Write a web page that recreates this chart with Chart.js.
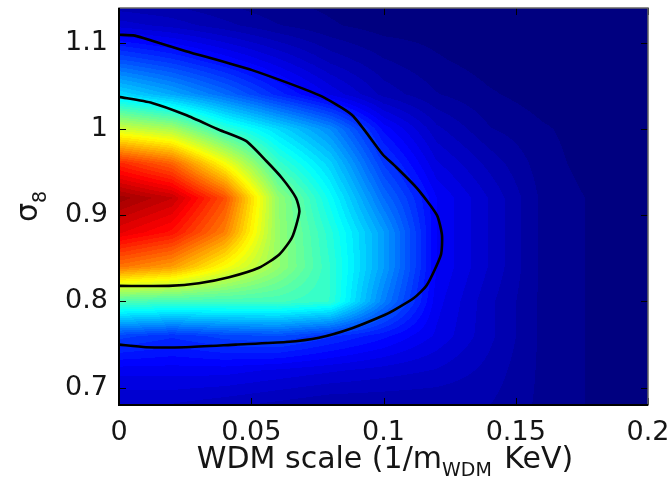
<!DOCTYPE html>
<html>
<head>
<meta charset="utf-8">
<script src="https://cdn.jsdelivr.net/npm/chart.js@4.4.1/dist/chart.umd.min.js"></script>
<style>
  html, body { margin: 0; padding: 0; background: #fff; }
  #wrap { width: 670px; height: 485px; }
</style>
</head>
<body>
<div id="wrap"><canvas id="c" width="670" height="485"></canvas></div>
<script>
/* ---- data ---- */
const xTicks = [0, 0.05, 0.1, 0.15, 0.2];
const yTicks = [0.7, 0.8, 0.9, 1, 1.1];

// density grid (0..1 on the jet colour scale), rows follow gridY
const gridX = [0, 0.02, 0.04, 0.06, 0.08, 0.10, 0.12, 0.14, 0.16, 0.18, 0.20];
const gridY = [0.68, 0.72, 0.76, 0.80, 0.84, 0.88, 0.92, 0.96, 1.00, 1.04, 1.08, 1.12, 1.16];
const density = [
  [0.07, 0.07, 0.06, 0.05, 0.04, 0.04, 0.04, 0.04, 0.02, 0.005, 0],
  [0.11, 0.11, 0.11, 0.10, 0.09, 0.08, 0.07, 0.05, 0.02, 0.005, 0],
  [0.19, 0.17, 0.19, 0.20, 0.17, 0.14, 0.10, 0.06, 0.02, 0.005, 0],
  [0.45, 0.44, 0.44, 0.44, 0.42, 0.25, 0.11, 0.06, 0.02, 0.005, 0],
  [0.76, 0.72, 0.62, 0.52, 0.42, 0.28, 0.12, 0.07, 0.02, 0.005, 0],
  [0.90, 0.86, 0.75, 0.52, 0.41, 0.28, 0.12, 0.07, 0.02, 0.005, 0],
  [0.97, 0.93, 0.80, 0.52, 0.38, 0.23, 0.12, 0.07, 0.02, 0.005, 0],
  [0.84, 0.78, 0.62, 0.43, 0.33, 0.18, 0.09, 0.05, 0.015, 0, 0],
  [0.58, 0.54, 0.42, 0.34, 0.26, 0.13, 0.06, 0.025, 0.01, 0, 0],
  [0.34, 0.29, 0.23, 0.16, 0.10, 0.05, 0.025, 0.01, 0, 0, 0],
  [0.20, 0.17, 0.13, 0.09, 0.05, 0.025, 0.01, 0, 0, 0, 0],
  [0.08, 0.065, 0.045, 0.025, 0.01, 0, 0, 0, 0, 0, 0],
  [0.02, 0.02, 0.01, 0, 0, 0, 0, 0, 0, 0, 0]
];

// confidence contours (traced from the left edge, round, back to it)
const outerX = [0, 0.006, 0.0125, 0.0253, 0.0503, 0.0756, 0.0881, 0.0998, 0.104, 0.1127, 0.1202, 0.1221, 0.1217, 0.1164, 0.1115, 0.104, 0.1002, 0.0881, 0.0756, 0.0631, 0.0442, 0.0253, 0.0102, 0];
const outerY = [1.109, 1.108, 1.102, 1.090, 1.068, 1.039, 1.016, 0.970, 0.958, 0.931, 0.900, 0.877, 0.854, 0.819, 0.804, 0.790, 0.784, 0.769, 0.758, 0.753, 0.750, 0.747, 0.747, 0.750];
const innerX = [0, 0.0125, 0.0253, 0.0378, 0.048, 0.0556, 0.0616, 0.0669, 0.0682, 0.0654, 0.0605, 0.0529, 0.0416, 0.0302, 0.0189, 0];
const innerY = [1.037, 1.030, 1.016, 0.999, 0.986, 0.963, 0.943, 0.920, 0.904, 0.874, 0.854, 0.839, 0.828, 0.821, 0.818, 0.818];

const FONT = "'DejaVu Sans', 'Liberation Sans', sans-serif";
const INK = '#151515';

const pts = (xs, ys) => xs.map((x, i) => ({ x, y: ys[i] }));
const fmt = (v) => String(+v.toFixed(3));

function jet(v) {
  v = Math.max(0, Math.min(1, v));
  v = Math.round(v * 63) / 63;          // 64-colour map like the original
  const c = (t) => Math.max(0, Math.min(1, t));
  return [
    c(Math.min(4 * v - 1.5, -4 * v + 4.5)) * 255,
    c(Math.min(4 * v - 0.5, -4 * v + 3.5)) * 255,
    c(Math.min(4 * v + 0.5, -4 * v + 2.5)) * 255
  ];
}

function cellIndex(arr, v) {
  let i = 0;
  while (i < arr.length - 2 && v > arr[i + 1]) i++;
  const t = (v - arr[i]) / (arr[i + 1] - arr[i]);
  return [i, Math.max(0, Math.min(1, t))];
}

function sample(x, y) {
  const [i, tx] = cellIndex(gridX, x);
  const [j, ty] = cellIndex(gridY, y);
  const a = density[j][i], b = density[j][i + 1];
  const c = density[j + 1][i], d = density[j + 1][i + 1];
  return (a * (1 - tx) + b * tx) * (1 - ty) + (c * (1 - tx) + d * tx) * ty;
}

/* smooth colour field, placed through the chart's own scales */
const heatmap = {
  id: 'heatmap',
  beforeDatasetsDraw(chart) {
    const { ctx, chartArea: a, scales } = chart;
    const w = Math.round(a.right - a.left), h = Math.round(a.bottom - a.top);
    const off = document.createElement('canvas');
    off.width = w; off.height = h;
    const octx = off.getContext('2d');
    const img = octx.createImageData(w, h);
    for (let j = 0; j < h; j++) {
      const vy = scales.y.getValueForPixel(a.top + j + 0.5);
      for (let i = 0; i < w; i++) {
        const vx = scales.x.getValueForPixel(a.left + i + 0.5);
        const rgb = jet(sample(vx, vy));
        const k = (j * w + i) * 4;
        img.data[k] = rgb[0]; img.data[k + 1] = rgb[1]; img.data[k + 2] = rgb[2]; img.data[k + 3] = 255;
      }
    }
    octx.putImageData(img, 0, 0);
    ctx.drawImage(off, a.left, a.top);
  }
};

/* matlab-style box, inward ticks and axis titles */
const frame = {
  id: 'frame',
  afterDatasetsDraw(chart) {
    const { ctx, chartArea: a, scales } = chart;
    ctx.save();
    ctx.strokeStyle = '#000';
    ctx.lineWidth = 1;
    const L = 7;
    ctx.beginPath();
    xTicks.forEach(v => {
      const px = Math.round(scales.x.getPixelForValue(v)) + 0.5;
      ctx.moveTo(px, a.bottom); ctx.lineTo(px, a.bottom - L);
      ctx.moveTo(px, a.top); ctx.lineTo(px, a.top + L);
    });
    yTicks.forEach(v => {
      const py = Math.round(scales.y.getPixelForValue(v)) + 0.5;
      ctx.moveTo(a.left, py); ctx.lineTo(a.left + L, py);
      ctx.moveTo(a.right, py); ctx.lineTo(a.right - L, py);
    });
    ctx.stroke();
    ctx.strokeStyle = '#666';
    ctx.lineWidth = 1.5;
    ctx.strokeRect(a.left, a.top, a.right - a.left, a.bottom - a.top);
    ctx.strokeStyle = '#000';
    ctx.lineWidth = 2;
    ctx.beginPath();
    ctx.moveTo(a.left, a.top); ctx.lineTo(a.left, a.bottom); ctx.lineTo(a.right, a.bottom);
    ctx.stroke();
    ctx.restore();
  },
  afterDraw(chart) {
    const { ctx, chartArea: a } = chart;
    ctx.save();
    ctx.fillStyle = INK;
    ctx.textBaseline = 'alphabetic';
    // x title with subscript
    const big = '30px ' + FONT, small = '19px ' + FONT;
    const p1 = 'WDM scale (1/m', p2 = 'WDM', p3 = ' KeV)';
    ctx.font = big; const w1 = ctx.measureText(p1).width, w3 = ctx.measureText(p3).width;
    ctx.font = small; const w2 = ctx.measureText(p2).width;
    let x = (a.left + a.right) / 2 - (w1 + w2 + w3) / 2;
    const base = 468;
    ctx.font = big; ctx.fillText(p1, x, base); x += w1;
    ctx.font = small; ctx.fillText(p2, x, base + 8); x += w2 + 3;
    ctx.font = big; ctx.fillText(p3, x, base);
    // y title: sigma_8, rotated
    ctx.translate(37, 222);
    ctx.rotate(-Math.PI / 2);
    ctx.font = big;
    ctx.fillText('σ', 0, 0);
    const ws = ctx.measureText('σ').width;
    ctx.font = small;
    ctx.fillText('8', ws, 9);
    ctx.restore();
  }
};

const line = (data) => ({
  data, showLine: true, fill: false, borderColor: '#000', borderWidth: 2.6,
  pointRadius: 0, tension: 0.2
});

// keep the plot box where the original has it
const noPadX = (s) => { s.height = 80; s.paddingLeft = 0; s.paddingRight = 0; };
const noPadY = (s) => { s.width = 119; s.paddingTop = 0; s.paddingBottom = 0; };

new Chart(document.getElementById('c').getContext('2d'), {
  type: 'scatter',
  data: { datasets: [line(pts(outerX, outerY)), line(pts(innerX, innerY))] },
  options: {
    responsive: false,
    animation: false,
    devicePixelRatio: 1,
    layout: { padding: { top: 8, right: 22, left: 0, bottom: 0 } },
    plugins: { legend: { display: false }, tooltip: { enabled: false } },
    scales: {
      x: {
        type: 'linear', min: 0, max: 0.2,
        afterBuildTicks: (s) => { s.ticks = xTicks.map(value => ({ value })); },
        afterFit: noPadX,
        grid: { display: false, drawTicks: false },
        border: { display: false },
        ticks: { color: INK, font: { family: FONT, size: 27 }, padding: 12, maxRotation: 0, autoSkip: false, callback: fmt }
      },
      y: {
        type: 'linear', min: 0.68, max: 1.14,
        afterBuildTicks: (s) => { s.ticks = yTicks.map(value => ({ value })); },
        afterFit: noPadY,
        grid: { display: false, drawTicks: false },
        border: { display: false },
        ticks: { color: INK, font: { family: FONT, size: 27 }, padding: 11, autoSkip: false, callback: fmt }
      }
    }
  },
  plugins: [heatmap, frame]
});
</script>
</body>
</html>
